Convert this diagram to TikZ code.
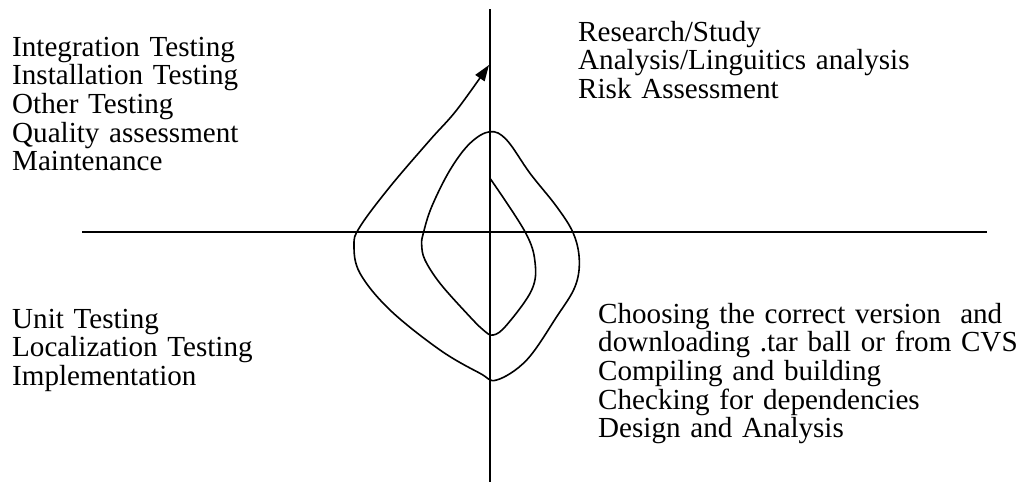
\documentclass[tikz,border=0pt]{standalone}
\usepackage{fontspec}
\setmainfont{Liberation Serif}
\usetikzlibrary{arrows.meta}
\lineskiplimit=-100pt
\begin{document}
\begin{tikzpicture}[x=1pt,y=-1pt,
  axisline/.style={line width=1.6pt},
  spiralline/.style={line width=1.6pt},
  label block/.style={inner sep=0pt, anchor=base west, align=left, text width=440pt,
    font=\fontsize{29.1}{28.7}\selectfont}]
\useasboundingbox (0,0) rectangle (1021,482);
% axes
\coordinate (vtop) at (490,9);
\coordinate (vbot) at (490,482);
\coordinate (hl) at (82,232);
\coordinate (hr) at (987,232);
\draw[axisline] (vtop) -- (vbot);
\draw[axisline] (hl) -- (hr);
% spiral
\draw[spiralline, -{Triangle[length=16pt,width=11pt]}] plot[smooth, tension=0.6] coordinates {
 (490,178.3) (525,231.7) (535,262) (531.7,290) (506.7,325) (493.3,335)
 (483.3,330) (466.7,313.3) (440,283.3) (425,260) (421.7,245) (423.3,233.3)
 (431.7,206.7) (450,170) (470,143.3) (490,131.7) (506.7,140) (530,173.3)
 (556.7,206.7) (573.3,233.3) (579.3,260) (575,286.7) (556.7,316.7) (526.7,360)
 (496.7,380) (480,373.3) (440,350) (390,310) (360,273.3) (354,245)
 (360,226.7) (390,186.7) (430,140) (456.7,110) (489,65)};
% texts
\node[label block] (tl) at (12,56) {Integration Testing\\Installation Testing\\Other Testing\\Quality assessment\\Maintenance};
\node[label block] (tr) at (578,41) {Research/Study\\Analysis/Linguitics analysis\\Risk Assessment};
\node[label block] (bl) at (12,328) {Unit Testing\\Localization Testing\\Implementation};
\node[label block] (br) at (598,323) {Choosing the correct version\ \ and\\downloading .tar ball or from CVS\\Compiling and building\\Checking for dependencies\\Design and Analysis};
\end{tikzpicture}
\end{document}
